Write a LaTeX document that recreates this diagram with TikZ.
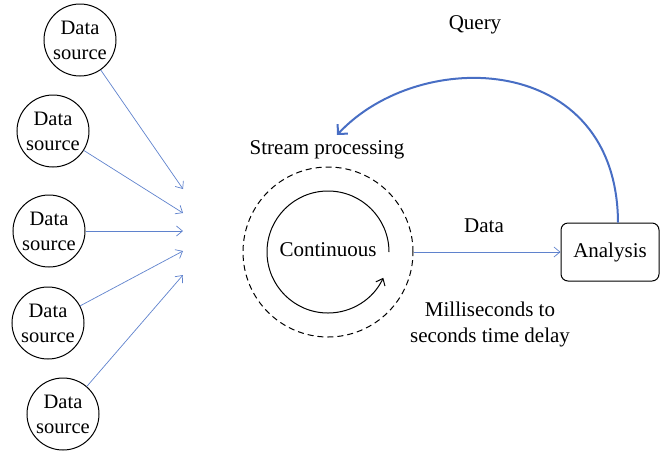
\documentclass[tikz,border=0pt]{standalone}
\usepackage{fontspec}
\setmainfont{Liberation Serif}
\usetikzlibrary{arrows.meta}
\definecolor{qblue}{RGB}{72,110,196}
\definecolor{lblue}{RGB}{95,130,205}
\tikzset{
  src/.style={circle,draw,line width=1pt,minimum size=72pt,inner sep=0pt,align=center,font=\fontsize{20.5}{25}\selectfont},
  feed/.style={draw=lblue,line width=0.7pt,-{Straight Barb[length=6pt,width=10pt]}},
  lbl/.style={font=\fontsize{21}{26}\selectfont,align=center,inner sep=0pt}
}
\begin{document}
\begin{tikzpicture}[x=1pt,y=-1pt]
\useasboundingbox (0,0) rectangle (661,451);
\node[src] (ds1) at (80,40) {Data\\source};
\node[src] (ds2) at (53,131) {Data\\source};
\node[src] (ds3) at (49,231) {Data\\source};
\node[src] (ds4) at (48,323) {Data\\source};
\node[src] (ds5) at (63,414) {Data\\source};
\coordinate (t1) at (183,189);
\coordinate (t2) at (183,213);
\coordinate (t3) at (183,231);
\coordinate (t4) at (183,251);
\coordinate (t5) at (183,275);
\draw[feed] (ds1) -- (t1);
\draw[feed] (ds2) -- (t2);
\draw[feed] (ds3) -- (t3);
\draw[feed] (ds4) -- (t4);
\draw[feed] (ds5) -- (t5);
% stream processing
\node[circle,draw,dashed,dash pattern=on 6pt off 4pt,line width=1pt,minimum size=170pt,inner sep=0pt] (sp) at (328,252) {};
\node[lbl] (cont) at (328,250) {Continuous};
\draw[line width=1pt,-{Straight Barb[length=6pt,width=10pt]}] (389,252) arc[start angle=0,end angle=-335,radius=61];
\node[lbl] (spl) at (327,150) {Stream processing};
% analysis
\node[draw,rounded corners=7pt,line width=1pt,minimum width=98pt,minimum height=58pt,lbl] (ana) at (610,252) {Analysis};
\draw[feed] (sp.east) -- (ana.west);
\node[lbl] (dl) at (484,226) {Data};
\node[lbl] (ms) at (490,324) {Milliseconds to\\seconds time delay};
\node[lbl] (q) at (475,25) {Query};
\coordinate (qs) at ([xshift=8pt]ana.north);
\coordinate (qe) at (337,135);
\draw[qblue,line width=2pt,-{Straight Barb[length=7pt,width=14pt]}] (qs) .. controls (617,52) and (420,46) .. (qe);
\end{tikzpicture}
\end{document}
